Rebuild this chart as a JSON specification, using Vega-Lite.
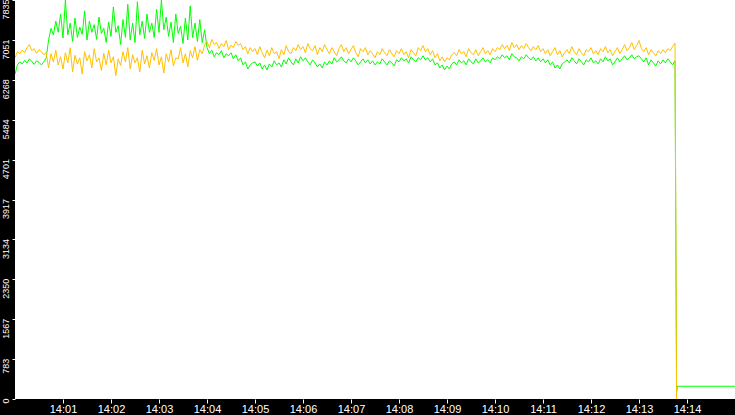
{
  "$schema": "https://vega.github.io/schema/vega-lite/v6.json",
  "width": 720,
  "height": 399,
  "autosize": "none",
  "padding": {"left": 15, "top": 0, "right": 0, "bottom": 16},
  "background": "black",
  "view": {"fill": "white", "stroke": null},
  "data": {
    "values": [
      {"t":0,"g":6380,"y":6700},{"t":3,"g":6560,"y":6820},{"t":6,"g":6620,"y":6780},{"t":9,"g":6580,"y":6850},{"t":12,"g":6650,"y":6800},
      {"t":15,"g":6600,"y":6900},{"t":18,"g":6680,"y":6960},{"t":21,"g":6630,"y":6840},{"t":24,"g":6570,"y":6880},{"t":27,"g":6640,"y":6790},
      {"t":30,"g":6610,"y":6860},{"t":33,"g":6560,"y":6820},{"t":36,"g":6620,"y":6760},{"t":39,"g":6700,"y":6800},
      {"t":42,"g":7050,"y":6500},{"t":45,"g":7280,"y":6780},{"t":48,"g":7150,"y":6620},{"t":51,"g":7420,"y":6850},{"t":54,"g":7200,"y":6560},
      {"t":57,"g":7560,"y":6720},{"t":60,"g":7090,"y":6480},{"t":63,"g":7835,"y":6800},{"t":66,"g":7150,"y":6600},{"t":69,"g":7380,"y":6900},
      {"t":72,"g":7020,"y":6420},{"t":75,"g":7480,"y":6750},{"t":78,"g":7100,"y":6580},{"t":81,"g":7300,"y":6700},{"t":84,"g":7160,"y":6380},
      {"t":87,"g":7620,"y":6820},{"t":90,"g":7050,"y":6640},{"t":93,"g":7420,"y":6760},{"t":96,"g":7200,"y":6500},{"t":99,"g":7350,"y":6880},
      {"t":102,"g":7060,"y":6620},{"t":105,"g":7500,"y":6700},{"t":108,"g":7180,"y":6450},{"t":111,"g":7280,"y":6790},{"t":114,"g":7000,"y":6560},
      {"t":117,"g":7400,"y":6850},{"t":120,"g":7120,"y":6600},{"t":123,"g":7700,"y":6720},{"t":126,"g":7200,"y":6350},{"t":129,"g":7330,"y":6680},
      {"t":132,"g":6960,"y":6550},{"t":135,"g":7450,"y":6820},{"t":138,"g":7100,"y":6620},{"t":141,"g":7750,"y":6900},{"t":144,"g":7050,"y":6480},
      {"t":147,"g":7380,"y":6760},{"t":150,"g":7000,"y":6600},{"t":153,"g":7800,"y":6700},{"t":156,"g":7150,"y":6420},{"t":159,"g":7420,"y":6850},
      {"t":162,"g":7080,"y":6580},{"t":165,"g":7560,"y":6740},{"t":168,"g":7200,"y":6500},{"t":171,"g":7380,"y":6800},{"t":174,"g":7100,"y":6650},
      {"t":177,"g":7650,"y":6880},{"t":180,"g":7200,"y":6560},{"t":183,"g":7835,"y":6720},{"t":186,"g":7250,"y":6400},{"t":189,"g":7500,"y":6780},
      {"t":192,"g":7120,"y":6620},{"t":195,"g":7400,"y":6860},{"t":198,"g":7000,"y":6540},{"t":201,"g":7560,"y":6700},{"t":204,"g":7180,"y":6680},
      {"t":207,"g":7320,"y":6900},{"t":210,"g":6980,"y":6600},{"t":213,"g":7480,"y":6780},{"t":216,"g":7050,"y":6520},{"t":219,"g":7720,"y":6840},
      {"t":222,"g":7100,"y":6700},{"t":225,"g":7380,"y":6920},{"t":228,"g":7020,"y":6650},{"t":231,"g":7450,"y":6860},{"t":234,"g":7000,"y":6780},
      {"t":237,"g":7250,"y":6950},
      {"t":240,"g":6900,"y":7020},{"t":243,"g":6780,"y":6900},{"t":246,"g":6850,"y":7060},{"t":249,"g":6720,"y":6960},{"t":252,"g":6800,"y":7000},
      {"t":255,"g":6760,"y":6880},{"t":258,"g":6840,"y":6980},{"t":261,"g":6700,"y":6920},{"t":264,"g":6780,"y":7040},{"t":267,"g":6740,"y":6860},
      {"t":270,"g":6800,"y":6950},{"t":273,"g":6680,"y":6900},{"t":276,"g":6760,"y":7020},{"t":279,"g":6640,"y":6940},{"t":282,"g":6700,"y":6980},
      {"t":285,"g":6560,"y":6860},{"t":288,"g":6620,"y":6920},{"t":291,"g":6480,"y":6780},{"t":294,"g":6560,"y":6900},{"t":297,"g":6600,"y":6820},
      {"t":300,"g":6620,"y":6880},{"t":303,"g":6540,"y":6760},{"t":306,"g":6600,"y":6920},{"t":309,"g":6480,"y":6800},{"t":312,"g":6560,"y":6700},
      {"t":315,"g":6460,"y":6850},{"t":318,"g":6580,"y":6740},{"t":321,"g":6520,"y":6900},{"t":324,"g":6640,"y":6780},{"t":327,"g":6560,"y":6820},
      {"t":330,"g":6600,"y":6680},{"t":333,"g":6520,"y":6860},{"t":336,"g":6660,"y":6760},{"t":339,"g":6580,"y":6940},{"t":342,"g":6700,"y":6820},
      {"t":345,"g":6620,"y":6780},{"t":348,"g":6560,"y":6900},{"t":351,"g":6680,"y":6840},{"t":354,"g":6600,"y":6960},{"t":357,"g":6720,"y":6860},
      {"t":360,"g":6640,"y":6920},{"t":363,"g":6700,"y":6800},{"t":366,"g":6620,"y":6980},{"t":369,"g":6560,"y":6880},{"t":372,"g":6660,"y":6840},
      {"t":375,"g":6600,"y":6940},{"t":378,"g":6520,"y":6760},{"t":381,"g":6580,"y":6900},{"t":384,"g":6500,"y":6820},{"t":387,"g":6620,"y":6960},
      {"t":390,"g":6560,"y":6860},{"t":393,"g":6640,"y":6780},{"t":396,"g":6580,"y":6900},{"t":399,"g":6700,"y":6820},{"t":402,"g":6620,"y":6740},
      {"t":405,"g":6660,"y":6880},{"t":408,"g":6720,"y":6960},{"t":411,"g":6640,"y":6820},{"t":414,"g":6600,"y":6900},{"t":417,"g":6680,"y":6780},
      {"t":420,"g":6620,"y":6860},{"t":423,"g":6700,"y":6940},{"t":426,"g":6640,"y":6800},{"t":429,"g":6560,"y":6720},{"t":432,"g":6620,"y":6880},
      {"t":435,"g":6680,"y":6820},{"t":438,"g":6600,"y":6900},{"t":441,"g":6660,"y":6760},{"t":444,"g":6580,"y":6840},{"t":447,"g":6640,"y":6780},
      {"t":450,"g":6560,"y":6700},{"t":453,"g":6620,"y":6820},{"t":456,"g":6580,"y":6760},{"t":459,"g":6680,"y":6880},{"t":462,"g":6620,"y":6800},
      {"t":465,"g":6560,"y":6740},{"t":468,"g":6640,"y":6860},{"t":471,"g":6600,"y":6780},{"t":474,"g":6540,"y":6720},{"t":477,"g":6660,"y":6840},
      {"t":480,"g":6620,"y":6780},{"t":483,"g":6700,"y":6880},{"t":486,"g":6640,"y":6760},{"t":489,"g":6680,"y":6820},{"t":492,"g":6600,"y":6700},
      {"t":495,"g":6720,"y":6860},{"t":498,"g":6660,"y":6800},{"t":501,"g":6620,"y":6740},{"t":504,"g":6700,"y":6900},{"t":507,"g":6660,"y":6840},
      {"t":510,"g":6740,"y":6940},{"t":513,"g":6660,"y":6820},{"t":516,"g":6700,"y":6880},{"t":519,"g":6620,"y":6760},{"t":522,"g":6680,"y":6840},
      {"t":525,"g":6560,"y":6700},{"t":528,"g":6600,"y":6780},{"t":531,"g":6500,"y":6640},{"t":534,"g":6560,"y":6720},{"t":537,"g":6460,"y":6620},
      {"t":540,"g":6540,"y":6700},{"t":543,"g":6480,"y":6660},{"t":546,"g":6580,"y":6760},{"t":549,"g":6620,"y":6800},{"t":552,"g":6560,"y":6740},
      {"t":555,"g":6660,"y":6860},{"t":558,"g":6600,"y":6780},{"t":561,"g":6640,"y":6820},{"t":564,"g":6560,"y":6720},{"t":567,"g":6680,"y":6880},
      {"t":570,"g":6620,"y":6800},{"t":573,"g":6580,"y":6760},{"t":576,"g":6680,"y":6860},{"t":579,"g":6600,"y":6740},{"t":582,"g":6640,"y":6820},
      {"t":585,"g":6700,"y":6900},{"t":588,"g":6620,"y":6780},{"t":591,"g":6660,"y":6840},{"t":594,"g":6600,"y":6760},{"t":597,"g":6700,"y":6880},
      {"t":600,"g":6660,"y":6820},{"t":603,"g":6720,"y":6900},{"t":606,"g":6680,"y":6860},{"t":609,"g":6760,"y":6960},{"t":612,"g":6700,"y":6880},
      {"t":615,"g":6740,"y":6940},{"t":618,"g":6660,"y":6840},{"t":621,"g":6780,"y":7000},{"t":624,"g":6720,"y":6900},{"t":627,"g":6700,"y":6960},
      {"t":630,"g":6640,"y":6860},{"t":633,"g":6720,"y":6940},{"t":636,"g":6680,"y":6880},{"t":639,"g":6760,"y":6980},{"t":642,"g":6700,"y":6900},
      {"t":645,"g":6660,"y":6840},{"t":648,"g":6720,"y":6920},{"t":651,"g":6640,"y":6860},{"t":654,"g":6700,"y":6940},{"t":657,"g":6620,"y":6820},
      {"t":660,"g":6680,"y":6880},{"t":663,"g":6600,"y":6780},{"t":666,"g":6660,"y":6860},{"t":669,"g":6560,"y":6740},{"t":672,"g":6620,"y":6820},
      {"t":675,"g":6500,"y":6900},{"t":678,"g":6560,"y":6760},{"t":681,"g":6480,"y":6840},{"t":684,"g":6580,"y":6720},{"t":687,"g":6620,"y":6800},
      {"t":690,"g":6660,"y":6860},{"t":693,"g":6600,"y":6780},{"t":696,"g":6700,"y":6920},{"t":699,"g":6640,"y":6820},{"t":702,"g":6580,"y":6760},
      {"t":705,"g":6680,"y":6880},{"t":708,"g":6620,"y":6800},{"t":711,"g":6560,"y":6740},{"t":714,"g":6660,"y":6860},{"t":717,"g":6620,"y":6820},
      {"t":720,"g":6700,"y":6900},{"t":723,"g":6600,"y":6780},{"t":726,"g":6640,"y":6840},{"t":729,"g":6580,"y":6760},{"t":732,"g":6680,"y":6880},
      {"t":735,"g":6620,"y":6820},{"t":738,"g":6720,"y":6920},{"t":741,"g":6640,"y":6800},{"t":744,"g":6680,"y":6860},{"t":747,"g":6560,"y":6740},
      {"t":750,"g":6620,"y":6820},{"t":753,"g":6700,"y":6900},{"t":756,"g":6620,"y":6780},{"t":759,"g":6680,"y":6860},{"t":762,"g":6740,"y":6960},
      {"t":765,"g":6660,"y":6840},{"t":768,"g":6700,"y":6900},{"t":771,"g":6760,"y":7000},{"t":774,"g":6680,"y":6860},{"t":777,"g":6720,"y":6940},
      {"t":780,"g":6740,"y":7040},{"t":783,"g":6680,"y":6880},{"t":786,"g":6620,"y":6820},{"t":789,"g":6700,"y":6900},{"t":792,"g":6560,"y":6760},
      {"t":795,"g":6660,"y":6860},{"t":798,"g":6600,"y":6800},{"t":801,"g":6540,"y":6740},{"t":804,"g":6640,"y":6840},{"t":807,"g":6580,"y":6780},
      {"t":810,"g":6660,"y":6860},{"t":813,"g":6600,"y":6800},{"t":816,"g":6680,"y":6880},{"t":819,"g":6620,"y":6840},{"t":822,"g":6560,"y":6920},
      {"t":825,"g":6640,"y":6990},
      {"t":826,"g":3350,"y":3450},{"t":827,"g":126,"y":0},{"t":828,"g":250,"y":null},{"t":900,"g":250,"y":null}
    ]
  },
  "transform": [{"fold": ["g", "y"], "as": ["series", "value"]}],
  "encoding": {
    "x": {
      "field": "t",
      "type": "quantitative",
      "scale": {"domain": [0, 900], "nice": false, "zero": false},
      "axis": {
        "title": null,
        "values": [60, 120, 180, 240, 300, 360, 420, 480, 540, 600, 660, 720, 780, 840],
        "labelExpr": "'14:' + (datum.value < 600 ? '0' : '') + (datum.value / 60)",
        "grid": false,
        "domain": false,
        "tickColor": "white",
        "tickSize": 4,
        "labelColor": "white",
        "labelFont": "Liberation Sans",
        "labelFontSize": 11,
        "labelPadding": 0,
        "labelFlush": false,
        "labelOverlap": false
      }
    },
    "y": {
      "field": "value",
      "type": "quantitative",
      "scale": {"domain": [0, 7835], "nice": false, "zero": true},
      "axis": {
        "title": null,
        "values": [0, 783, 1567, 2350, 3134, 3917, 4701, 5484, 6268, 7051, 7835],
        "format": "d",
        "grid": false,
        "domain": false,
        "tickColor": "white",
        "tickSize": 3,
        "labelColor": "white",
        "labelFont": "Liberation Sans",
        "labelFontSize": 9,
        "labelAngle": -90,
        "labelAlign": "right",
        "labelBaseline": "bottom",
        "labelOffset": -1,
        "labelPadding": 2,
        "labelFlush": false,
        "labelOverlap": false
      }
    },
    "color": {
      "field": "series",
      "type": "nominal",
      "scale": {"domain": ["g", "y"], "range": ["#00ff00", "#ffc000"]},
      "legend": null
    }
  },
  "layer": [
    {
      "transform": [{"filter": "datum.series == 'g'"}],
      "mark": {"type": "line", "strokeWidth": 1, "clip": true}
    },
    {
      "transform": [{"filter": "datum.series == 'y'"}],
      "mark": {"type": "line", "strokeWidth": 1, "clip": true}
    }
  ]
}
